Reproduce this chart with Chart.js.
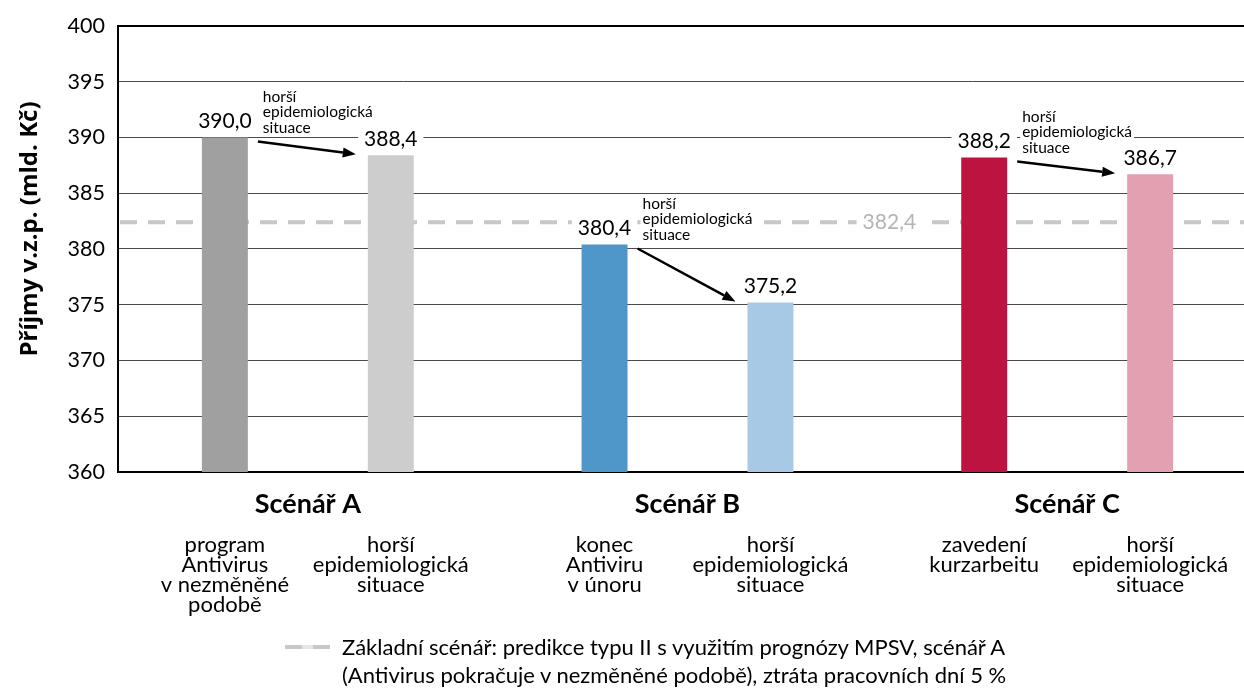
<!DOCTYPE html>
<html>
<head>
<meta charset="utf-8">
<script src="https://cdn.jsdelivr.net/npm/chart.js@4"></script>
<style>
  html, body { margin: 0; padding: 0; background: #fff; overflow: hidden; }
  #wrap { position: absolute; left: 0; top: 0; width: 1262px; height: 688px; }
  #legend { position: absolute; left: 285px; top: 633px; font-family: Lato, sans-serif; font-size: 22px; line-height: 28px; color: #000; }
  #legend .dash { position: absolute; left: 0; top: 12px; width: 45px; height: 4px;
    background: repeating-linear-gradient(90deg, #c8c8c8 0 17px, #e6e6e6 17px 28px, #c8c8c8 28px 45px); }
  #legend .txt { margin-left: 57px; white-space: nowrap; }
</style>
</head>
<body>
<div id="wrap"><canvas id="chart" width="1262" height="688"></canvas></div>
<div id="legend"><span class="dash"></span><div class="txt">Základní scénář: predikce typu II s využitím prognózy MPSV, scénář A<br>(Antivirus pokračuje v nezměněné podobě), ztráta pracovních dní 5 %</div></div>
<script>
// data
const scenarios = ['Scénář A', 'Scénář B', 'Scénář C'];
const firstValues = [390.0, 380.4, 388.2];
const worseValues = [388.4, 375.2, 386.7];
const baselineValue = 382.4;
const firstColors = ['#a0a0a0', '#4f96c9', '#bd1340'];
const worseColors = ['#cdcdcd', '#a7c9e5', '#e3a0b1'];
const firstNotes = [
  ['program', 'Antivirus', 'v nezměněné', 'podobě'],
  ['konec', 'Antiviru', 'v únoru'],
  ['zavedení', 'kurzarbeitu']
];
const worseNote = ['horší', 'epidemiologická', 'situace'];
const yTicks = [360, 365, 370, 375, 380, 385, 390, 395, 400];
const yTitle = 'Příjmy v.z.p. (mld. Kč)';

const FONT = 'Lato, sans-serif';
const fmt = v => v.toFixed(1).replace('.', ',');

function labelBox(ctx, text, x, y, font, color) {
  ctx.font = font;
  const w = ctx.measureText(text).width;
  ctx.fillStyle = '#fff';
  ctx.fillRect(x - w / 2 - 6, y - 11, w + 12, 22);
  ctx.fillStyle = color;
  ctx.textAlign = 'center';
  ctx.textBaseline = 'middle';
  ctx.fillText(text, x, y);
}

// dashed baseline, drawn behind bars
const baselinePlugin = {
  id: 'baseline',
  beforeDatasetsDraw(chart) {
    const { ctx, chartArea, scales } = chart;
    const y = scales.y.getPixelForValue(baselineValue);
    ctx.save();
    ctx.strokeStyle = '#c8c8c8';
    ctx.lineWidth = 4;
    ctx.setLineDash([17, 11]);
    ctx.beginPath();
    ctx.moveTo(chartArea.left + 2, y);
    ctx.lineTo(chartArea.right, y);
    ctx.stroke();
    ctx.restore();
  }
};

function arrow(ctx, x1, y1, x2, y2) {
  const a = Math.atan2(y2 - y1, x2 - x1);
  const len = 13, half = 5;
  ctx.beginPath();
  ctx.moveTo(x1, y1);
  ctx.lineTo(x2 - Math.cos(a) * len, y2 - Math.sin(a) * len);
  ctx.stroke();
  ctx.beginPath();
  ctx.moveTo(x2, y2);
  ctx.lineTo(x2 - Math.cos(a) * len - Math.sin(a) * half, y2 - Math.sin(a) * len + Math.cos(a) * half);
  ctx.lineTo(x2 - Math.cos(a) * len + Math.sin(a) * half, y2 - Math.sin(a) * len - Math.cos(a) * half);
  ctx.closePath();
  ctx.fill();
}

const overlayPlugin = {
  id: 'overlay',
  afterDatasetsDraw(chart) {
    const { ctx, chartArea, scales } = chart;
    const m0 = chart.getDatasetMeta(0).data;
    const m1 = chart.getDatasetMeta(1).data;
    ctx.save();

    // baseline value label
    const bx = (scales.x.getPixelForValue(1) + scales.x.getPixelForValue(2)) / 2 + 12;
    labelBox(ctx, fmt(baselineValue), bx, scales.y.getPixelForValue(baselineValue), '21px ' + FONT, '#b4b4b4');

    // annotations + arrows first, value labels on top
    scenarios.forEach((s, i) => {
      const b0 = m0[i], b1 = m1[i];
      const w0 = b0.width / 2, w1 = b1.width / 2;

      ctx.font = '15.5px ' + FONT;
      const tw = Math.max(...worseNote.map(t => ctx.measureText(t).width));
      const tx = b0.x + w0 + 15;
      const cy = b0.y - 25;
      const lh = 15.5;
      ctx.fillStyle = '#fff';
      ctx.fillRect(tx - 2, cy - lh * 1.5 - 1, tw + 4, lh * 3 + 1);
      ctx.fillStyle = '#000';
      ctx.textAlign = 'left';
      ctx.textBaseline = 'middle';
      worseNote.forEach((t, k) => ctx.fillText(t, tx, cy + (k - 1) * lh));

      ctx.strokeStyle = '#000';
      ctx.fillStyle = '#000';
      ctx.lineWidth = 2.5;
      arrow(ctx, b0.x + w0 + 10, b0.y + 4, b1.x - w1 - 12, b1.y - 1);
    });

    scenarios.forEach((s, i) => {
      const b0 = m0[i], b1 = m1[i];
      labelBox(ctx, fmt(firstValues[i]), b0.x, b0.y - 16, '21px ' + FONT, '#000');
      labelBox(ctx, fmt(worseValues[i]), b1.x, b1.y - 16, '21px ' + FONT, '#000');

      // notes under each bar
      ctx.font = '22px ' + FONT;
      ctx.textAlign = 'center';
      ctx.textBaseline = 'middle';
      ctx.fillStyle = '#000';
      firstNotes[i].forEach((t, k) => ctx.fillText(t, b0.x, 545 + k * 20));
      worseNote.forEach((t, k) => ctx.fillText(t, b1.x, 545 + k * 20));
    });

    // y axis title
    ctx.translate(30, 229);
    ctx.rotate(-Math.PI / 2);
    ctx.font = 'bold 24px "Open Sans", sans-serif';
    ctx.textAlign = 'center';
    ctx.textBaseline = 'middle';
    ctx.fillText(yTitle, 0, 0);
    ctx.restore();
  }
};

new Chart(document.getElementById('chart'), {
  type: 'bar',
  data: {
    labels: scenarios,
    datasets: [
      { data: firstValues, backgroundColor: firstColors, categoryPercentage: 0.874, barPercentage: 0.277 },
      { data: worseValues, backgroundColor: worseColors, categoryPercentage: 0.874, barPercentage: 0.277 }
    ]
  },
  options: {
    responsive: false,
    animation: false,
    layout: { padding: { left: 0, top: 25, right: 5, bottom: 0 } },
    plugins: { legend: { display: false }, tooltip: { enabled: false } },
    scales: {
      x: {
        grid: { display: false },
        border: { display: true, color: '#000', width: 2 },
        ticks: { color: '#000', padding: 8, font: { family: 'Lato', size: 27, weight: 'bold' } },
        afterFit: s => { s.height = 688 - 472; }
      },
      y: {
        min: 360, max: 400,
        afterBuildTicks: s => { s.ticks = yTicks.map(v => ({ value: v })); },
        grid: {
          drawTicks: false,
          color: c => c.tick && c.tick.value === 400 ? '#000' : '#4a4a4a',
          lineWidth: c => c.tick && c.tick.value === 400 ? 2 : 1
        },
        border: { display: true, color: '#000', width: 2 },
        ticks: { color: '#000', padding: 13, font: { family: 'Lato', size: 21.5 } },
        afterFit: s => { s.width = 118; }
      }
    }
  },
  plugins: [baselinePlugin, overlayPlugin]
});
</script>
</body>
</html>
